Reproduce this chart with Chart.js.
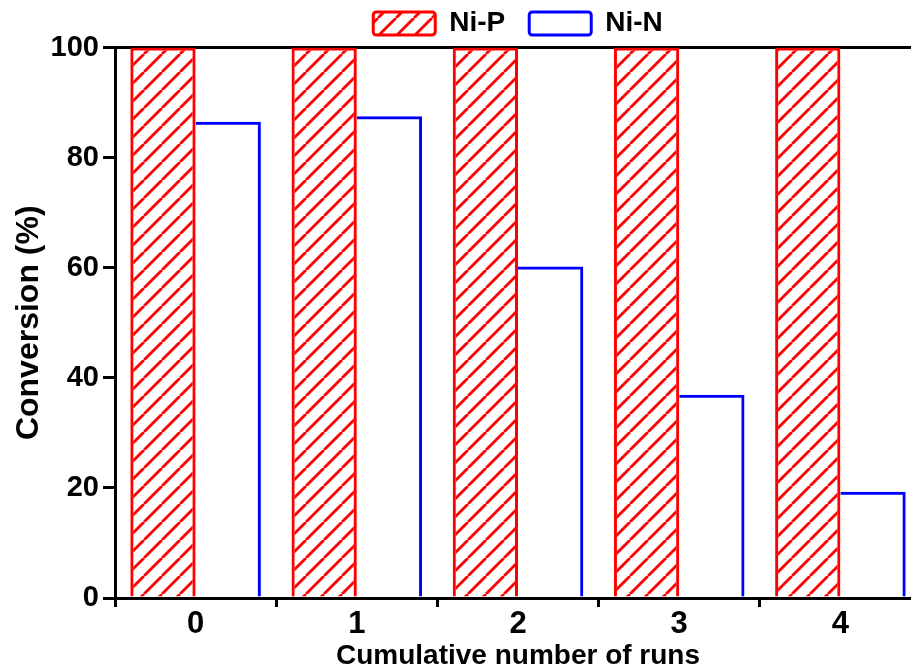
<!DOCTYPE html>
<html>
<head>
<meta charset="utf-8">
<script src="https://cdn.jsdelivr.net/npm/chart.js@4/dist/chart.umd.min.js"></script>
<style>
  html, body { margin: 0; padding: 0; background: #fff; overflow: hidden; }
  #wrap { width: 935px; height: 670px; }
</style>
</head>
<body>
<div id="wrap"><canvas id="myChart" width="935" height="670"></canvas></div>
<script>
// data
const runs = ['0', '1', '2', '3', '4'];
const niP = [100, 100, 100, 100, 100];
const niN = [86.5, 87.5, 60.2, 36.9, 19.3];
const yTicks = [0, 20, 40, 60, 80, 100];

// red hatch pattern "/"
function hatch(color) {
    const s = 18;
    const c = document.createElement('canvas');
    c.width = s; c.height = s;
    const g = c.getContext('2d');
    g.strokeStyle = color;
    g.lineWidth = 2.8;
    for (const k of [-s, 0, s]) {
        g.beginPath();
        g.moveTo(k, s);
        g.lineTo(k + s, 0);
        g.stroke();
    }
    return g.createPattern(c, 'repeat');
}

Chart.defaults.font.family = '"Liberation Sans", Arial, sans-serif';
Chart.defaults.font.weight = 'bold';
Chart.defaults.color = '#000';

var ctx = document.getElementById('myChart').getContext('2d');

var myChart = new Chart(ctx, {
    type: 'bar',
    data: {
        labels: runs,
        datasets: [{
            label: 'Ni-P',
            data: niP,
            backgroundColor: hatch('#ff0000'),
            borderColor: '#ff0000',
            borderWidth: 3,
            borderSkipped: 'bottom'
        }, {
            label: 'Ni-N',
            data: niN,
            backgroundColor: 'transparent',
            borderColor: '#0000ff',
            borderWidth: {top: 3, right: 3, left: 0, bottom: 0},
            borderSkipped: 'bottom'
        }]
    },
    options: {
        responsive: false,
        animation: false,
        categoryPercentage: 0.81,
        barPercentage: 1.0,
        layout: { padding: { top: -14.5, right: 14, left: 0, bottom: 0 } },
        plugins: {
            tooltip: { enabled: false },
            legend: {
                position: 'top',
                fullSize: false,
                labels: {
                    boxWidth: 62,
                    boxHeight: 23,
                    padding: 24,
                    color: '#000',
                    useBorderRadius: true,
                    borderRadius: 3,
                    font: { size: 28, weight: 'bold' },
                    generateLabels: function(chart) {
                        const items = Chart.defaults.plugins.legend.labels.generateLabels(chart);
                        items.forEach(it => { it.lineWidth = 3; });
                        return items;
                    }
                }
            }
        },
        scales: {
            x: {
                z: 1,
                grid: {
                    offset: true,
                    drawOnChartArea: false,
                    tickLength: 9,
                    tickWidth: 3,
                    tickColor: '#000'
                },
                border: { color: '#000', width: 3 },
                ticks: { padding: -1, font: { size: 31, weight: 'bold' } },
                title: {
                    display: true,
                    text: 'Cumulative number of runs',
                    font: { size: 28, weight: 'bold', lineHeight: 1 },
                    padding: { top: 0, bottom: 0 }
                },
                afterFit: function(scale) { scale.height = 72; }
            },
            y: {
                z: 1,
                min: 0,
                max: 100,
                afterBuildTicks: function(scale) {
                    scale.ticks = yTicks.map(v => ({ value: v }));
                },
                grid: {
                    drawOnChartArea: true,
                    color: c => (c.tick && c.tick.value === 100) ? '#000' : 'transparent',
                    lineWidth: 3,
                    tickLength: 12,
                    tickWidth: 3,
                    tickColor: '#000'
                },
                border: { color: '#000', width: 3 },
                ticks: { padding: 4, font: { size: 29, weight: 'bold' } },
                title: {
                    display: true,
                    text: 'Conversion (%)',
                    font: { size: 32, weight: 'bold', lineHeight: 1 },
                    padding: { top: 13, bottom: 0 }
                },
                afterFit: function(scale) { scale.width = 115; }
            }
        }
    }
});
</script>
</body>
</html>
